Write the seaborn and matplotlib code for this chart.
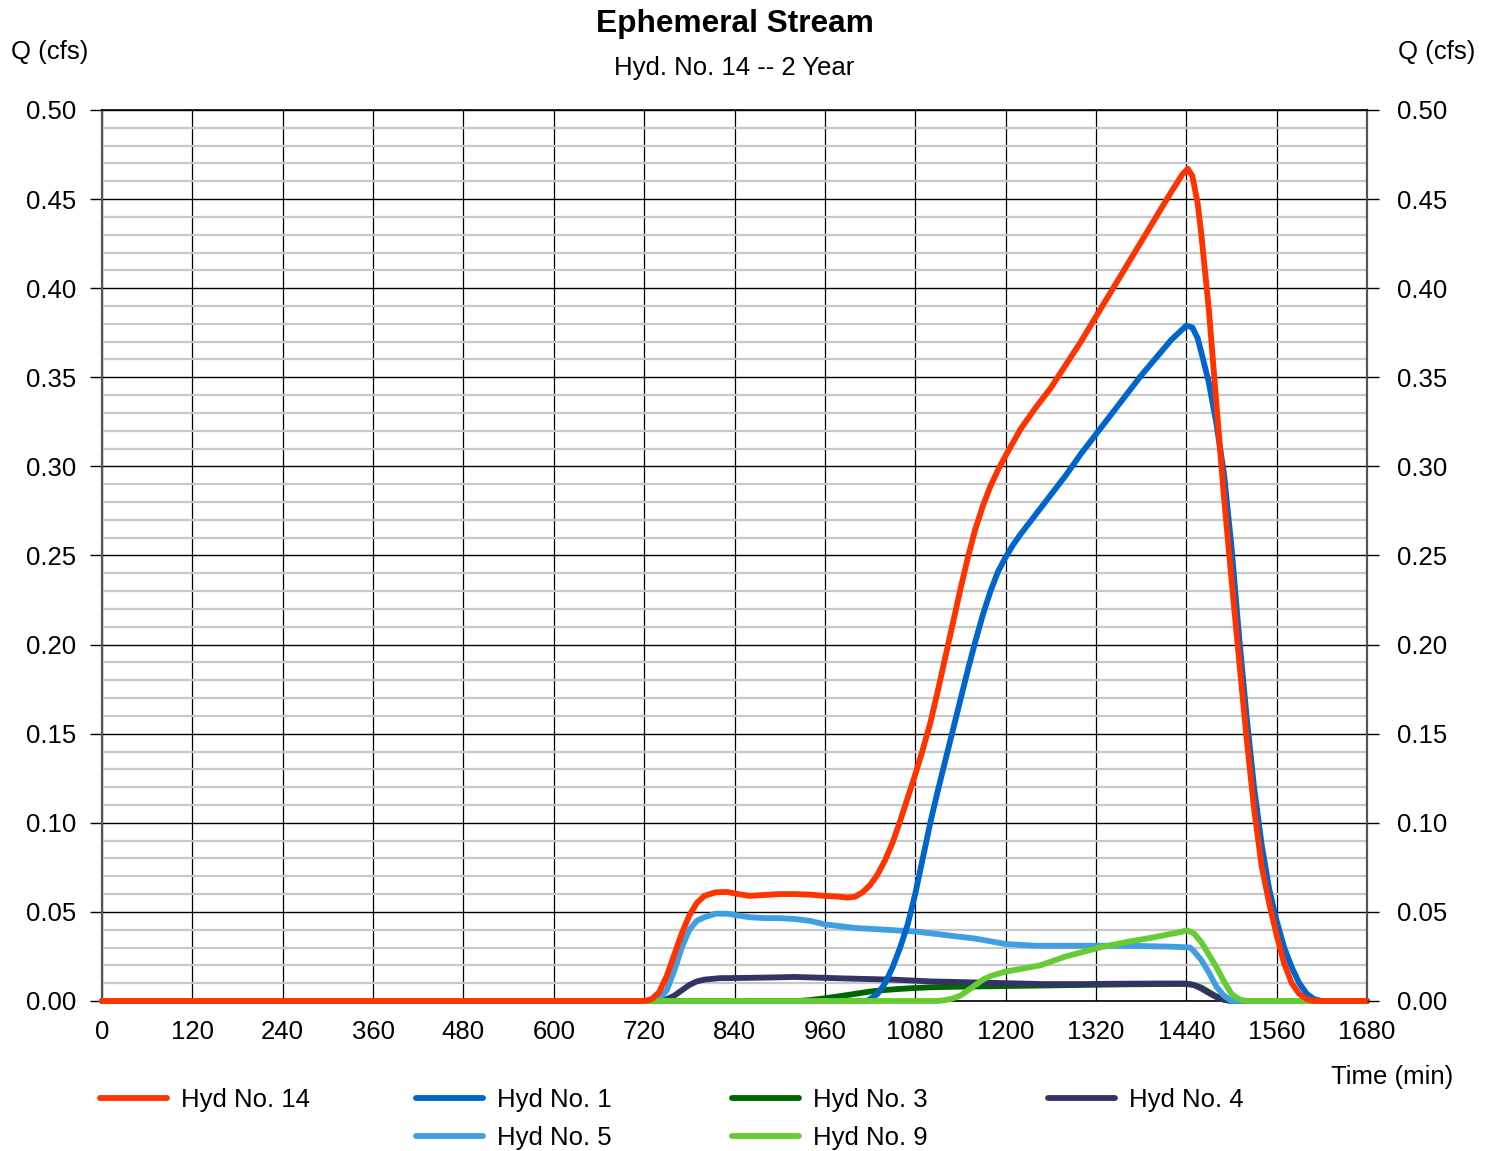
import numpy as np
import pandas as pd
import matplotlib
matplotlib.use("Agg")
import matplotlib.pyplot as plt
from matplotlib.lines import Line2D
import seaborn as sns

# ---------------- data (time in min, Q in cfs) ----------------
t14 = [0, 720, 730, 740, 750, 760, 770, 780, 790, 800, 815, 830, 845, 860, 880, 900, 920, 940, 960, 980,
       990, 1000, 1010, 1020, 1030, 1040, 1050, 1060, 1070, 1080, 1090, 1100, 1110, 1120, 1130, 1140, 1150,
       1160, 1170, 1180, 1190, 1200, 1220, 1240, 1260, 1280, 1300, 1320, 1340, 1360, 1380, 1400, 1420, 1435,
       1442, 1448, 1455, 1460, 1470, 1480, 1490, 1500, 1510, 1520, 1530, 1540, 1550, 1560, 1570, 1580, 1590,
       1600, 1610, 1680]
q14 = [0, 0, 0.001, 0.005, 0.014, 0.026, 0.038, 0.048, 0.055, 0.059, 0.061, 0.0612, 0.060, 0.059, 0.0595,
       0.060, 0.060, 0.0597, 0.059, 0.0585, 0.058, 0.0585, 0.061, 0.065, 0.071, 0.079, 0.089, 0.101, 0.114,
       0.127, 0.141, 0.156, 0.174, 0.193, 0.212, 0.231, 0.249, 0.265, 0.278, 0.289, 0.298, 0.306, 0.321,
       0.333, 0.344, 0.357, 0.370, 0.384, 0.398, 0.412, 0.426, 0.440, 0.454, 0.464, 0.467, 0.463, 0.448,
       0.430, 0.388, 0.335, 0.283, 0.237, 0.192, 0.148, 0.108, 0.076, 0.055, 0.037, 0.021, 0.010, 0.004,
       0.001, 0, 0]

t1 = [0, 1015, 1020, 1030, 1040, 1050, 1060, 1070, 1080, 1090, 1100, 1110, 1120, 1130, 1140, 1150, 1160,
      1170, 1180, 1190, 1200, 1210, 1220, 1240, 1260, 1280, 1300, 1320, 1340, 1360, 1380, 1400, 1420, 1440,
      1448, 1455, 1460, 1470, 1480, 1490, 1500, 1510, 1520, 1530, 1540, 1550, 1560, 1570, 1580, 1590, 1600,
      1610, 1620, 1680]
q1 = [0, 0, 0.001, 0.004, 0.010, 0.019, 0.030, 0.043, 0.060, 0.080, 0.100, 0.118, 0.135, 0.152, 0.169,
      0.186, 0.202, 0.217, 0.230, 0.241, 0.249, 0.256, 0.262, 0.273, 0.284, 0.295, 0.307, 0.318, 0.329,
      0.340, 0.351, 0.361, 0.371, 0.379, 0.378, 0.372, 0.364, 0.347, 0.324, 0.296, 0.255, 0.205, 0.160,
      0.120, 0.088, 0.063, 0.045, 0.030, 0.019, 0.010, 0.004, 0.001, 0, 0]

t3 = [0, 925, 940, 960, 980, 1000, 1020, 1040, 1060, 1080, 1100, 1120, 1150, 1200, 1250, 1300, 1350, 1400,
      1440, 1450, 1460, 1470, 1480, 1490, 1500, 1680]
q3 = [0, 0, 0.0005, 0.0015, 0.0027, 0.004, 0.0053, 0.0062, 0.0068, 0.0073, 0.0077, 0.0079, 0.0081, 0.0084,
      0.0087, 0.009, 0.0093, 0.0095, 0.0096, 0.009, 0.0075, 0.005, 0.0025, 0.0008, 0, 0]

t4 = [0, 745, 750, 760, 770, 780, 790, 800, 820, 860, 900, 920, 960, 1000, 1050, 1100, 1150, 1200, 1250,
      1300, 1350, 1400, 1440, 1450, 1460, 1470, 1480, 1490, 1500, 1680]
q4 = [0, 0, 0.001, 0.003, 0.006, 0.009, 0.011, 0.012, 0.0128, 0.013, 0.0133, 0.0135, 0.013, 0.0125, 0.012,
      0.011, 0.0105, 0.010, 0.0095, 0.0095, 0.0097, 0.0098, 0.0098, 0.009, 0.007, 0.0045, 0.0022, 0.0007, 0, 0]

t5 = [0, 735, 740, 750, 760, 770, 780, 790, 800, 815, 830, 845, 860, 880, 900, 920, 940, 960, 980, 1000,
      1040, 1080, 1120, 1160, 1200, 1240, 1300, 1360, 1420, 1445, 1450, 1460, 1470, 1480, 1490, 1500, 1680]
q5 = [0, 0, 0.001, 0.006, 0.017, 0.030, 0.040, 0.045, 0.047, 0.049, 0.049, 0.048, 0.047, 0.0465, 0.0465,
      0.046, 0.045, 0.043, 0.042, 0.041, 0.040, 0.039, 0.037, 0.035, 0.032, 0.031, 0.031, 0.031, 0.0305,
      0.030, 0.028, 0.023, 0.016, 0.008, 0.003, 0, 0]

t9 = [0, 1110, 1120, 1130, 1140, 1150, 1160, 1170, 1180, 1200, 1220, 1246, 1280, 1325, 1360, 1400, 1430,
      1441, 1450, 1460, 1470, 1480, 1490, 1500, 1510, 1520, 1680]
q9 = [0, 0, 0.0005, 0.0015, 0.003, 0.006, 0.009, 0.012, 0.014, 0.0165, 0.018, 0.020, 0.025, 0.030, 0.033,
      0.036, 0.0385, 0.0397, 0.038, 0.033, 0.026, 0.019, 0.011, 0.004, 0.001, 0, 0]

series_names = ["Hyd No. 14", "Hyd No. 1", "Hyd No. 3", "Hyd No. 4", "Hyd No. 5", "Hyd No. 9"]
series_t = [t14, t1, t3, t4, t5, t9]
series_q = [q14, q1, q3, q4, q5, q9]
colors = ["#FF3300", "#0066CC", "#006600", "#333366", "#3F9FE0", "#66CC33"]
zorders = [8, 6, 3, 4, 5, 7]

x_ticks = list(range(0, 1681, 120))
y_major = [0.00, 0.05, 0.10, 0.15, 0.20, 0.25, 0.30, 0.35, 0.40, 0.45, 0.50]

# ---------------- style ----------------
sns.set_theme(style="white")
plt.rcParams["font.family"] = ["Liberation Sans", "DejaVu Sans"]
plt.rcParams["text.color"] = "black"
plt.rcParams["axes.labelcolor"] = "black"
plt.rcParams["xtick.color"] = "black"
plt.rcParams["ytick.color"] = "black"
FS = 18.5

W, H = 1497, 1151
fig = plt.figure(figsize=(W / 100, H / 100), dpi=100)
L, R, T, B = 102, 1367, 110, 1001
ax = fig.add_axes([L / W, 1 - B / H, (R - L) / W, (B - T) / H])

for name, tt, qq, c, z in zip(series_names, series_t, series_q, colors, zorders):
    df = pd.DataFrame({"t": tt, "q": qq})
    sns.lineplot(data=df, x="t", y="q", ax=ax, color=c, lw=4.2, sort=False,
                 estimator=None, zorder=z, clip_on=False, solid_capstyle="round",
                 solid_joinstyle="round")

ax.set_xlim(0, 1680)
ax.set_ylim(0, 0.5)
ax.set_xlabel("")
ax.set_ylabel("")
ax.set_xticks(x_ticks)
ax.set_xticklabels([str(v) for v in x_ticks], fontsize=FS, color="black")
ax.set_yticks(y_major)
ax.set_yticklabels([f"{v:.2f}" for v in y_major], fontsize=FS, color="black")
ax.set_yticks(np.arange(0, 0.5001, 0.01), minor=True)
ax.tick_params(axis="x", length=0, pad=13.5, labelcolor="black")
ax.tick_params(axis="y", which="major", left=True, length=8.6, width=1.0, color="black",
               direction="out", pad=10, labelcolor="black")
ax.tick_params(axis="y", which="minor", length=0)

ax.set_axisbelow(True)
ax.grid(axis="y", which="minor", color="#C8C8C8", lw=1.6)
ax.grid(axis="y", which="major", color="black", lw=1.0)
ax.grid(axis="x", which="major", color="black", lw=0.9)
for s in ["left", "right"]:
    ax.spines[s].set_color("#555555")
    ax.spines[s].set_linewidth(1.6)
for s in ["top", "bottom"]:
    ax.spines[s].set_color("black")
    ax.spines[s].set_linewidth(1.2)

ax2 = ax.twinx()
ax2.set_ylim(0, 0.5)
ax2.set_yticks(y_major)
ax2.set_yticklabels([f"{v:.2f}" for v in y_major], fontsize=FS, color="black")
ax2.tick_params(axis="y", which="major", right=True, length=8.6, width=1.0, color="black",
                direction="out", pad=13, labelcolor="black")
ax2.grid(False)
for s in ax2.spines.values():
    s.set_visible(False)

# ---------------- texts ----------------
fig.text(734.5 / W, 1 - 24 / H, "Ephemeral Stream", ha="center", va="center",
         fontsize=22.8, fontweight="bold", color="black")
fig.text(734.5 / W, 1 - 68 / H, "Hyd. No. 14 -- 2 Year", ha="center", va="center", fontsize=FS,
         color="black")
fig.text(50 / W, 1 - 52 / H, "Q (cfs)", ha="center", va="center", fontsize=FS, color="black")
fig.text(1437 / W, 1 - 52 / H, "Q (cfs)", ha="center", va="center", fontsize=FS, color="black")
fig.text(1392 / W, 1 - 1077 / H, "Time (min)", ha="center", va="center", fontsize=FS, color="black")

# ---------------- legend (4 columns) ----------------
handles = {n: Line2D([], [], color=c, lw=4.2, solid_capstyle="round") for n, c in zip(series_names, colors)}
columns = [["Hyd No. 14"], ["Hyd No. 1", "Hyd No. 5"], ["Hyd No. 3", "Hyd No. 9"], ["Hyd No. 4"]]
col_x = [100, 416, 732, 1048]
for names, cx in zip(columns, col_x):
    leg = fig.legend([handles[n] for n in names], names, loc="upper left",
                     bbox_to_anchor=(cx / W, 1 - 1088 / H), frameon=False, fontsize=FS,
                     handlelength=2.6, handletextpad=0.55, labelspacing=0.55,
                     borderpad=0, borderaxespad=0)
    for txt in leg.get_texts():
        txt.set_color("black")

fig.savefig("out.png", dpi=100)
